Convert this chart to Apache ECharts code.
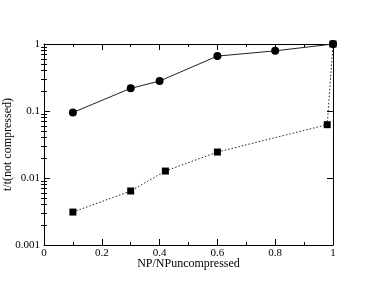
<!DOCTYPE html>
<html><head><meta charset="utf-8">
<script src="https://cdn.jsdelivr.net/npm/echarts@6/dist/echarts.min.js"></script>
<style>html,body{margin:0;padding:0;background:#fff}#c{width:374px;height:289px}</style>
</head><body><div id="c"></div>
<script>
const xTickValues = [0, 0.2, 0.4, 0.6, 0.8, 1];
const yTickValues = [0.001, 0.01, 0.1, 1];
const circleX = [0.1, 0.3, 0.4, 0.6, 0.8, 1.0];
const circleY = [0.095, 0.218, 0.28, 0.66, 0.79, 1.0];
const squareX = [0.1, 0.3, 0.42, 0.6, 0.98, 1.0];
const squareY = [0.0031, 0.0064, 0.0127, 0.0244, 0.0625, 1.0];
const xName = 'NP/NPuncompressed';
const yName = 't/t(not compressed)';

// minor tick positions (log10 of 2..9 in each decade)
const yMinor = [];
for (let d = -3; d < 0; d++) for (let m = 2; m <= 9; m++) yMinor.push(d + Math.log10(m));

const FONT = '"Liberation Serif", "DejaVu Serif", serif';
const black = '#000';
const chart = echarts.init(document.getElementById('c'));
const xBase = (pos, labels) => ({
  type: 'value', position: pos, min: 0, max: 1, interval: 0.2,
  axisLine: {show: true, onZero: false, lineStyle: {color: black, width: 1}},
  axisTick: {show: true, inside: true, length: 6, lineStyle: {color: black}},
  minorTick: {show: true, splitNumber: 2, length: 3, lineStyle: {color: black}},
  splitLine: {show: false},
  axisLabel: {show: labels, margin: 3, fontFamily: FONT, fontSize: 11, color: black,
    formatter: v => (v === 0 ? '0' : v === 1 ? '1' : v.toFixed(1))},
  name: labels ? xName : '', nameLocation: 'middle', nameGap: 13, nameMoveOverlap: false,
  nameTextStyle: {fontFamily: FONT, fontSize: 12, color: black}
});
const yLog = (pos, labels) => ({
  type: 'log', logBase: 10, position: pos, min: yTickValues[0], max: yTickValues[yTickValues.length - 1],
  axisLine: {show: true, onZero: false, lineStyle: {color: black, width: 1}},
  axisTick: {show: true, inside: true, length: 6, lineStyle: {color: black}},
  splitLine: {show: false},
  axisLabel: {show: labels, margin: 4, fontFamily: FONT, fontSize: 11, color: black,
    formatter: v => String(+(+v).toPrecision(3))},
  name: labels ? yName : '', nameLocation: 'middle', nameGap: 30, nameMoveOverlap: false,
  nameTextStyle: {fontFamily: FONT, fontSize: 12, color: black}
});
const yMinorAxis = (pos) => ({
  type: 'value', position: pos, min: -3, max: 0,
  axisLine: {show: false},
  axisTick: {show: true, inside: true, length: 3, customValues: yMinor, lineStyle: {color: black}},
  axisLabel: {show: false}, splitLine: {show: false}
});
chart.setOption({
  animation: false,
  backgroundColor: '#fff',
  grid: {left: 44, right: 41, top: 44, bottom: 44, containLabel: false, outerBoundsMode: 'none'},
  xAxis: [xBase('bottom', true), xBase('top', false)],
  yAxis: [yLog('left', true), yLog('right', false), yMinorAxis('left'), yMinorAxis('right')],
  series: [
    {type: 'line', xAxisIndex: 0, yAxisIndex: 0, symbol: 'circle', symbolSize: 8,
     data: circleX.map((x, i) => [x, circleY[i]]),
     lineStyle: {color: '#222', width: 1}, itemStyle: {color: black}},
    {type: 'line', xAxisIndex: 0, yAxisIndex: 0, symbol: 'rect', symbolSize: 7,
     data: squareX.map((x, i) => [x, squareY[i]]),
     lineStyle: {color: '#222', width: 1, type: [1.5, 2]}, itemStyle: {color: black}}
  ]
});
</script></body></html>
